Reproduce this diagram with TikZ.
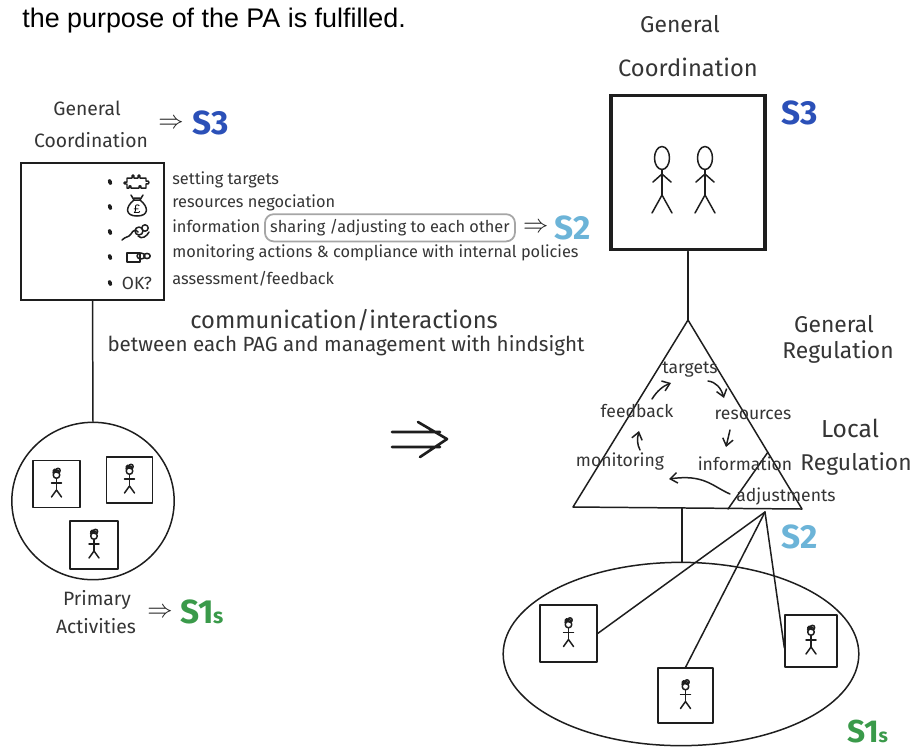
\documentclass[tikz,border=0pt]{standalone}
\usepackage{fontspec}
\setmainfont{Liberation Sans}
\newfontfamily\hand{Fira Sans}
\usetikzlibrary{arrows.meta,calc,shapes.geometric}

\definecolor{sthree}{HTML}{2B50B8}
\definecolor{stwo}{HTML}{6CB4D8}
\definecolor{sone}{HTML}{3A9A4A}
\definecolor{inkc}{HTML}{1E1E1E}

\tikzset{
  ink/.style={draw=inkc, line width=0.85pt, line cap=round, line join=round},
  thick ink/.style={draw=inkc, line width=2pt, line join=miter},
  hw/.style={font=\fontsize{#1}{#1}\hand, text=inkc!90, inner sep=0pt},
  hw/.default=10,
  slabel/.style={font=\fontsize{#1}{#1}\hand\bfseries, inner sep=0pt},
  implies/.style={font=\fontsize{#1}{#1}\selectfont, inner sep=0pt, text=inkc},
  loop/.style={ink, -{Straight Barb[length=4pt,width=6pt]}},
  % small figure with curly hair
  kid/.pic={
    \draw[ink] (0,-9) circle (3.3);
    \draw[ink] (-3.5,-11) .. controls (-2,-15) and (1,-15) .. (3,-12);
    \draw[ink] (1.5,-13.5) circle (2.2);
    \draw[ink] (-1.8,-13.2) circle (1.6);
    \draw[ink] (0,-5.7) -- (0,6);
    \draw[ink] (-5,-1) -- (5,-1);
    \draw[ink] (-5,13) -- (0,6) -- (5,13);
  },
  % large plain figure
  man/.pic={
    \draw[ink] (0,-27) ellipse (7.5 and 11.5);
    \draw[ink] (0,-15.5) -- (0,10);
    \draw[ink] (-9,-3) -- (0,-11) -- (9,-3);
    \draw[ink] (-10,28) -- (0,10) -- (10,28);
  },
  pbox/.style={ink, minimum width=#1, minimum height=#1, inner sep=0pt},
}

\begin{document}
\begin{tikzpicture}[x=0.02cm, y=-0.02cm]
\useasboundingbox[fill=white] (0,0) rectangle (913,752);

% ---------- heading line ----------
\node[font=\fontsize{15.3}{15.3}\selectfont, anchor=base west, inner sep=0pt] (head) at (22,27) {the purpose of the PA is fulfilled.};

% ---------- left: general coordination ----------
\node[hw=11] (lgen) at (87,108) {General};
\node[hw=11] (lcoo) at (91,140) {Coordination};
\node[implies=15] (lar3) at (171,124) {$\Rightarrow$};
\node[slabel=19, text=sthree] (ls3) at (211,123) {S3};

\node[thick ink, line width=1pt, minimum width=143pt*0.567, minimum height=137pt*0.567, inner sep=0pt] (lbox) at (92.5,231.5) {};

% bullets
\foreach \yy in {182,207,232,257,283}
  \fill[inkc, rotate around={20:(110,\yy)}] (110,\yy) ellipse (2 and 3);

% icon: puzzle piece
\draw[ink] (127,178) -- (132,178) .. controls (131,174) and (135,174) .. (134,178)
  -- (138,178) .. controls (137,174) and (141,174) .. (140,178) -- (146,178)
  -- (146,181) .. controls (150,180) and (150,185) .. (146,184) -- (146,188)
  -- (141,188) .. controls (142,185) and (138,185) .. (139,188) -- (131,188)
  .. controls (132,185) and (128,185) .. (129,188) -- (127,188) -- (127,184)
  .. controls (123,185) and (123,181) .. (127,182) -- cycle;
% icon: money bag
\draw[ink] (134,200) .. controls (125,207) and (125,216) .. (137,216)
  .. controls (149,216) and (149,207) .. (140,200) -- cycle;
\draw[ink] (134,200) -- (131,195) (140,200) -- (143,195) (134,198) -- (140,198);
\node[font=\fontsize{7}{7}\selectfont, inner sep=0pt] (pound) at (137,209) {£};
% icon: hand with pen
\draw[ink] (122,240) .. controls (126,236) and (128,238) .. (131,234)
  .. controls (133,230) and (136,229) .. (138,232);
\draw[ink] (139,231) circle (4);
\draw[ink] (145,228) circle (3.2);
\draw[ink] (138,236) .. controls (142,240) and (147,236) .. (149,232);
% icon: pointing hand
\draw[ink] (127,253) rectangle (140,262);
\draw[ink] (141,256) ellipse (4 and 3);
\draw[ink] (147,256) ellipse (3.2 and 2.6);
\node[hw=10] (okq) at (137,283) {OK?};

% activity list
\node[hw=9.3, anchor=mid west] (it1) at (172,180) {setting targets};
\node[hw=9.3, anchor=mid west] (it2) at (172,203) {resources negociation};
\node[hw=9.3, anchor=mid west] (it3) at (172,228) {information};
\node[hw=9.3, anchor=mid west, draw=black!35, line width=1pt, rounded corners=5pt,
      inner xsep=3pt, inner ysep=3pt] (it3b) at ([xshift=2pt]it3.mid east) {sharing /adjusting to each other};
\node[hw=9.3, anchor=mid west] (it4) at (172,253) {monitoring actions \& compliance with internal policies};
\node[hw=9.3, anchor=mid west] (it5) at (172,280) {assessment/feedback};
\node[implies=15, anchor=west] (lar2) at ([xshift=4pt]it3b.east) {$\Rightarrow$};
\node[slabel=19, text=stwo, anchor=west] (ls2) at ([xshift=3pt]lar2.east) {S2};

\node[hw=13.5] (comm) at (344,320) {communication/interactions};
\node[hw=11.7] (betw) at (346,346) {between each PAG and management with hindsight};

% primary activities
\node[ink, ellipse, minimum width=163pt*0.567, minimum height=158pt*0.567, inner sep=0pt] (lcirc) at (93,501) {};
\draw[ink] (lbox.south) -- (lcirc.north);
\node[pbox=47pt*0.567] (k1) at (56.5,484) {};
\node[pbox=46pt*0.567] (k2) at (129.5,480) {};
\node[pbox=48pt*0.567] (k3) at (94,545) {};
\pic at (k1) {kid};
\pic at (k2) {kid};
\pic at (k3) {kid};
\node[hw=11] (prim) at (97,600) {Primary};
\node[hw=11] (acti) at (96,626) {Activities};
\node[implies=15] (lar1) at (160,613) {$\Rightarrow$};
\node[slabel=19, text=sone] (ls1) at (202,612) {S1\kern-0.5pt{\fontsize{12}{12}\selectfont s}};

% ---------- transition arrow ----------
\coordinate (ta1) at (392,432);
\coordinate (ta2) at (440,432);
\coordinate (tb1) at (392,447);
\coordinate (tb2) at (440,447);
\coordinate (tc1) at (418,422);
\coordinate (tc2) at (447,439);
\coordinate (tc3) at (420,457);
\draw[ink, line width=1.5pt] (ta1) -- (ta2) (tb1) -- (tb2) (tc1) -- (tc2) -- (tc3);

% ---------- right: general coordination ----------
\node[hw=13] (rgen) at (680,24) {General};
\node[hw=13.5] (rcoo) at (688,67) {Coordination};
\node[thick ink, minimum width=155pt*0.567, minimum height=155pt*0.567, inner sep=0pt] (rbox) at (688,172.5) {};
\node[slabel=19, text=sthree] (rs3) at (800,113) {S3};
\pic at (662,185) {man};
\pic at (705,185) {man};

% regulation triangle
\coordinate (tA) at (688,320);
\coordinate (tL) at (573,507);
\coordinate (tR) at (802,509);
\coordinate (tM) at ($(tA)!0.70!(tR)$);
\coordinate (tB) at (728,509);
\draw[ink] (tA) -- (tL) -- (tR) -- cycle;
\draw[ink] (tB) -- (tM);
\draw[ink] (rbox.south) -- (tA);

\node[hw=10] (tg) at (690,370) {targets};
\node[hw=10] (rs) at (753,415) {resources};
\node[hw=10] (inf) at (745,464) {information};
\node[hw=10] (adj) at (786,496) {adjustments};
\node[hw=10] (mon) at (620,462) {monitoring};
\node[hw=10] (fb) at (637,411) {feedback};

\draw[loop] (708,381) .. controls (716,382) and (721,388) .. (724,398);
\draw[loop] (730,430) -- (726,447);
\draw[loop] (730,494) .. controls (712,486) and (704,474) .. (669,479);
\draw[loop] (640,450) .. controls (637,444) and (637,439) .. (639,431);
\draw[loop] (652,399) .. controls (657,391) and (663,386) .. (671,383);

\node[hw=13] (grg1) at (834,324) {General};
\node[hw=13] (grg2) at (838,352) {Regulation};
\node[hw=14] (lrg1) at (850,428) {Local};
\node[hw=13] (lrg2) at (856,464) {Regulation};
\node[slabel=19, text=stwo] (rs2) at (800,537) {S2};

% primary activities (right)
\node[ink, ellipse, minimum width=357pt*0.567, minimum height=184pt*0.567, inner sep=0pt] (rell) at (681,654) {};
\coordinate (tbase) at (682,508);
\coordinate (etop) at (682,562);
\draw[ink] (tbase) -- (etop);
\node[pbox=57pt*0.567] (b1) at (568.5,633.5) {};
\node[pbox=55pt*0.567] (b2) at (685.5,695.5) {};
\node[pbox=52pt*0.567] (b3) at (811,641) {};
\pic at (b1) {kid};
\pic at (b2) {kid};
\pic at (b3) {kid};
\coordinate (hub) at (765,512);
\draw[ink] (hub) -- (b1.east);
\draw[ink] (hub) -- (b2.north);
\draw[ink] (hub) -- ($(b3.north west)!0.63!(b3.south west)$);
\node[slabel=18, text=sone] (rs1) at (868,732) {S1\kern-0.5pt{\fontsize{11}{11}\selectfont s}};
\end{tikzpicture}
\end{document}
